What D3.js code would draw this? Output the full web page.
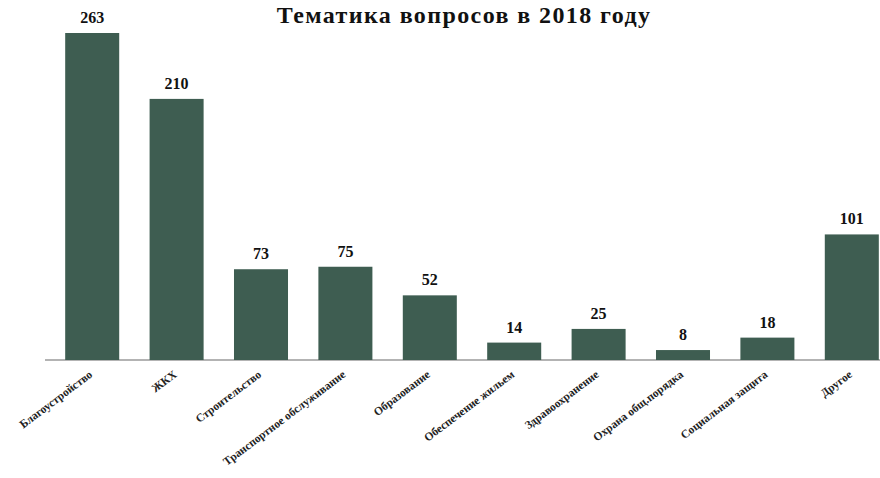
<!DOCTYPE html>
<html>
<head>
<meta charset="utf-8">
<script src="https://cdn.jsdelivr.net/npm/d3@7"></script>
<style>
  body { margin: 0; background: #fff; }
  svg { display: block; }
</style>
</head>
<body>
<svg id="chart" width="880" height="478"></svg>
<script>
const categories = [
  "Благоустройство", "ЖКХ", "Строительство", "Транспортное обслуживание",
  "Образование", "Обеспечение жильем", "Здравоохранение",
  "Охрана общ.порядка", "Социальная защита", "Другое"
];
const values = [263, 210, 73, 75, 52, 14, 25, 8, 18, 101];
const title = "Тематика вопросов в 2018 году";

const svg = d3.select("#chart");
const baseY = 360;
const color = "#3e5d51";
const serif = "Liberation Serif, Times New Roman, DejaVu Serif, serif";

const x = d3.scaleBand()
  .domain(categories)
  .range([50, 894])
  .paddingInner(0.36)
  .paddingOuter(0.18);

const y = d3.scaleLinear()
  .domain([0, 263])
  .range([baseY, 33]);

// title
svg.append("text")
  .attr("x", 464)
  .attr("y", 23)
  .attr("text-anchor", "middle")
  .attr("font-family", serif)
  .attr("font-weight", "bold")
  .attr("font-size", 24)
  .attr("letter-spacing", 1.4)
  .attr("fill", "#111")
  .text(title);

// baseline
svg.append("line")
  .attr("x1", 45).attr("x2", 880)
  .attr("y1", baseY).attr("y2", baseY)
  .attr("stroke", "#9a9a9a")
  .attr("stroke-width", 1.5);

const bars = svg.append("g");
bars.selectAll("rect")
  .data(values)
  .enter()
  .append("rect")
  .attr("x", (d, i) => x(categories[i]))
  .attr("y", d => y(d))
  .attr("width", x.bandwidth())
  .attr("height", d => baseY - y(d))
  .attr("fill", color);

bars.selectAll("text")
  .data(values)
  .enter()
  .append("text")
  .attr("x", (d, i) => x(categories[i]) + x.bandwidth() / 2)
  .attr("y", d => y(d) - 10)
  .attr("text-anchor", "middle")
  .attr("font-family", serif)
  .attr("font-weight", "bold")
  .attr("font-size", 16)
  .attr("fill", "#111")
  .text(d => d);

// rotated category labels
svg.append("g")
  .selectAll("text")
  .data(categories)
  .enter()
  .append("text")
  .attr("transform", d => "translate(" + (x(d) + x.bandwidth() / 2 + 1) + "," + (baseY + 16) + ") rotate(-37)")
  .attr("text-anchor", "end")
  .attr("font-family", serif)
  .attr("font-weight", "bold")
  .attr("font-size", 11.5)
  .attr("fill", "#222")
  .text(d => d);
</script>
</body>
</html>
